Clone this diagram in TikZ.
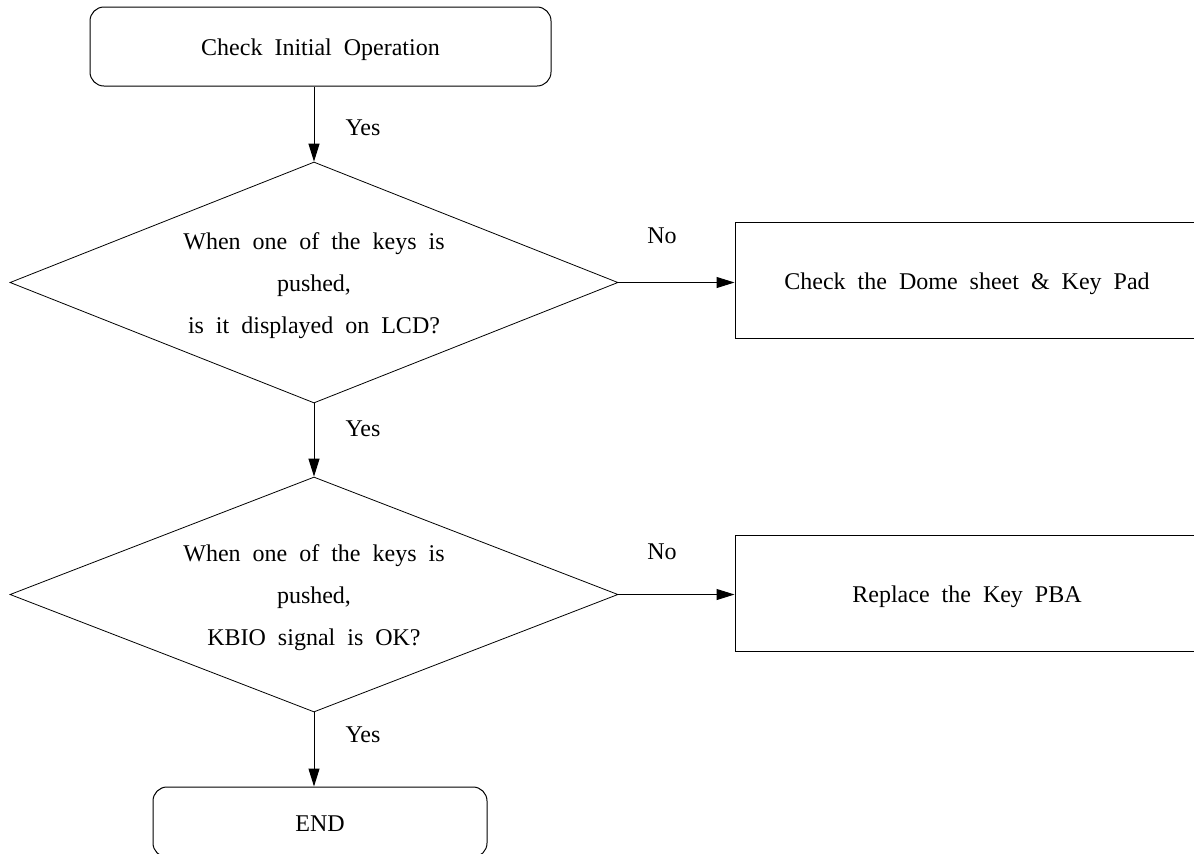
\documentclass[tikz,border=0pt]{standalone}
\usepackage{fontspec}
\setmainfont{Liberation Serif}[WordSpace=2]
\usetikzlibrary{shapes.geometric,arrows.meta}
\begin{document}
\begin{tikzpicture}[x=0.5pt,y=-0.5pt,
  every node/.style={font=\fontsize{12}{21}\selectfont},
  one/.style={text height=9pt,text depth=0pt},
  rbox/.style={draw,rounded corners=7pt,line width=0.5pt,inner sep=0pt,one},
  pbox/.style={draw,line width=0.5pt,inner sep=0pt,one},
  dec/.style={draw,diamond,line width=0.4pt,inner sep=0pt,align=center,aspect=2.5},
  arr/.style={-{Triangle[length=9pt,width=5.5pt]},line width=0.5pt},
  lab/.style={inner sep=0pt,one}]
\useasboundingbox (0,0) rectangle (1194,853);
\clip (0,0) rectangle (1194,853);
\node[rbox,minimum width=230.5pt,minimum height=39.5pt] (start) at (320.5,46.5) {Check Initial Operation};
\node[dec,minimum width=304pt,minimum height=120.5pt] (d1) at (314,282.5) {\rule{0pt}{11.2pt}When one of the keys is\\pushed,\\is it displayed on LCD?};
\node[dec,minimum width=304pt,minimum height=117.5pt] (d2) at (314,594.5) {\rule{0pt}{11.2pt}When one of the keys is\\pushed,\\KBIO signal is OK?};
\node[pbox,minimum width=232pt,minimum height=58pt] (b1) at (967,280) {Check the Dome sheet \& Key Pad};
\node[pbox,minimum width=232pt,minimum height=58pt] (b2) at (967,593) {Replace the Key PBA};
\node[rbox,minimum width=167pt,minimum height=35pt] (end) at (320,822) {END};
\draw[arr] (start.south -| d1.north) -- (d1.north);
\draw[arr] (d1.south) -- (d2.north);
\draw[arr] (d2.south) -- (d2.south |- end.north);
\draw[arr] (d1.east) -- (d1.east -| b1.west);
\draw[arr] (d2.east) -- (d2.east -| b2.west);
\node[lab] (y1) at (363,126) {Yes};
\node[lab] (y2) at (363,427) {Yes};
\node[lab] (y3) at (363,733) {Yes};
\node[lab] (n1) at (662,234) {No};
\node[lab] (n2) at (662,550) {No};
\end{tikzpicture}
\end{document}
